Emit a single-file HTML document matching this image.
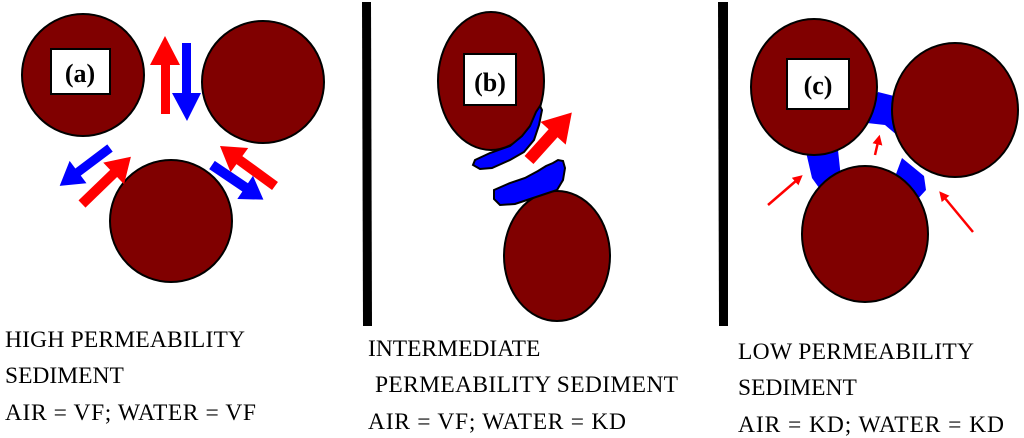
<!DOCTYPE html>
<html><head><meta charset="utf-8"><style>
html,body{margin:0;padding:0;background:#fff;}
svg{display:block}
text{font-family:"Liberation Serif",serif;}
</style></head><body>
<svg width="1024" height="438" viewBox="0 0 1024 438" xmlns="http://www.w3.org/2000/svg">
<defs>
<marker id="rh" markerWidth="4" markerHeight="4" refX="1" refY="2" orient="auto" markerUnits="strokeWidth"><path d="M0,0 L4,2 L0,4 z" fill="#ff0000"/></marker>
</defs>
<g stroke="#000" stroke-width="2" fill="#800000">
<circle cx="83" cy="75" r="61"/>
<circle cx="263" cy="82" r="61"/>
<circle cx="171" cy="221" r="61"/>
</g>
<rect x="51" y="49" width="59" height="45" fill="#fff" stroke="#000" stroke-width="2"/>
<text x="80" y="82" font-size="26" font-weight="bold" text-anchor="middle">(a)</text>
<polygon points="161,114 170,114 170,65 180,65 165,36 150,65 161,65" fill="#ff0000"/>
<polygon points="182,43 191,43 191,93 201,93 187,121 172,93 182,93" fill="#0000ff"/>
<g transform="translate(110,148) rotate(143)"><polygon points="0,-4.5 40,-4.5 40,-14 63,0 40,14 40,4.5 0,4.5" fill="#0000ff"/></g>
<g transform="translate(82,204) rotate(-44)"><polygon points="0,-5 44,-5 44,-15 68,0 44,15 44,5 0,5" fill="#ff0000"/></g>
<g transform="translate(212,165) rotate(34)"><polygon points="0,-5 40,-5 40,-14 62,0 40,14 40,5 0,5" fill="#0000ff"/></g>
<g transform="translate(275,186) rotate(-144)"><polygon points="0,-5 44,-5 44,-15 68,0 44,15 44,5 0,5" fill="#ff0000"/></g>

<polygon points="362,2 371,2 372,326 363,326" fill="#000"/>
<polygon points="718,2 728,2 728,326 719,326" fill="#000"/>

<g stroke="#000" stroke-width="2" fill="#800000">
<ellipse cx="491" cy="81" rx="53" ry="69"/>
<ellipse cx="557" cy="256" rx="53" ry="65"/>
</g>
<rect x="464" y="54" width="52" height="51" fill="#fff" stroke="#000" stroke-width="2"/>
<text x="490" y="91" font-size="26" font-weight="bold" text-anchor="middle">(b)</text>
<path d="M475,160 L490,153 L510,146 L522,136 L530,126 L536,112 L540,106 L542,110 L539,125 L534,140 L524,152 L510,160 L492,168 L480,169 L473,165 Z" fill="#0000ff" stroke="#000" stroke-width="2"/>
<path d="M494,190 L510,183 L525,178 L538,171 L546,166 L553,163 L558,160 L563,161 L565,168 L563,180 L557,190 L545,194 L530,199 L515,204 L500,205 L494,199 Z" fill="#0000ff" stroke="#000" stroke-width="2"/>
<g transform="translate(529,160) rotate(-48)"><polygon points="0,-6 36,-6 36,-17 64,0 36,17 36,6 0,6" fill="#ff0000"/></g>

<polygon points="878,92 898,97 898,136 885,125 867,123" fill="#0000ff"/>
<polygon points="806,152 838,150 841,178 822,192 812,178" fill="#0000ff"/>
<polygon points="902,158 924,176 926,190 915,202 893,182" fill="#0000ff"/>
<g stroke="#000" stroke-width="2" fill="#800000">
<ellipse cx="814" cy="87" rx="63" ry="68"/>
<ellipse cx="955" cy="110" rx="63" ry="67"/>
<ellipse cx="865" cy="234" rx="63" ry="68"/>
</g>
<rect x="787" y="59" width="62" height="50" fill="#fff" stroke="#000" stroke-width="2"/>
<text x="818" y="94" font-size="26" font-weight="bold" text-anchor="middle">(c)</text>
<line x1="768" y1="205" x2="797" y2="180" stroke="#ff0000" stroke-width="2.5" marker-end="url(#rh)"/>
<line x1="875" y1="155" x2="878" y2="142" stroke="#ff0000" stroke-width="2.5" marker-end="url(#rh)"/>
<line x1="973" y1="232" x2="944" y2="197" stroke="#ff0000" stroke-width="2.5" marker-end="url(#rh)"/>

<g font-size="23.5" fill="#000">
<text x="5" y="347" textLength="240">HIGH PERMEABILITY</text>
<text x="5" y="383">SEDIMENT</text>
<text x="5" y="420" textLength="251">AIR = VF; WATER = VF</text>
<text x="368" y="356">INTERMEDIATE</text>
<text x="375" y="392" textLength="303">PERMEABILITY SEDIMENT</text>
<text x="368" y="429" textLength="258">AIR = VF; WATER = KD</text>
<text x="738" y="359" textLength="236">LOW PERMEABILITY</text>
<text x="738" y="395">SEDIMENT</text>
<text x="738" y="432" textLength="266">AIR = KD; WATER = KD</text>
</g>
</svg>
</body></html>
